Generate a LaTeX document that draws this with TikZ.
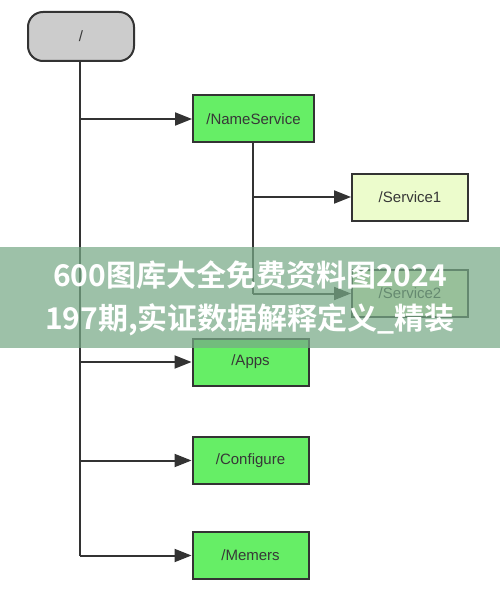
\documentclass[tikz,border=0pt]{standalone}
\usepackage{fontspec}
\setmainfont{Liberation Sans}
\newfontfamily\cjkbold[BoldFont={Noto Sans CJK SC Bold}]{Noto Sans CJK SC}
\usetikzlibrary{arrows.meta}
\definecolor{boxgreen}{RGB}{102,238,102}
\definecolor{palegreen}{RGB}{236,252,204}
\definecolor{rootgray}{RGB}{204,204,204}
\definecolor{edge}{RGB}{51,51,51}
\definecolor{txt}{RGB}{55,55,55}
\definecolor{bandcol}{RGB}{120,170,135}
\begin{document}
\begin{tikzpicture}[x=1pt,y=-1pt,
  box/.style={draw=edge,line width=2pt,fill=boxgreen,minimum width=116pt,minimum height=47pt,inner sep=0pt,text=txt,font=\fontsize{15}{17}\selectfont},
  widebox/.style={box,minimum width=121pt},
  palebox/.style={box,fill=palegreen},
  rootbox/.style={box,fill=rootgray,rounded corners=15pt,minimum width=106pt,minimum height=49pt},
  conn/.style={draw=edge,line width=2pt},
  arr/.style={conn,-{Triangle[length=17pt,width=13pt]}}]
\useasboundingbox (0,0) rectangle (500,596);
\fill[white] (0,0) rectangle (500,596);
\node[rootbox] (root) at (81,36.5) {/};
\node[widebox] (ns) at (253.5,119) {/NameService};
\node[palebox] (s1) at (410,197) {/Service1};
\node[palebox] (s2) at (410,293.5) {/Service2};
\node[box] (apps) at (250.5,362) {/Apps};
\node[box] (conf) at (250.5,460.5) {/Configure};
\node[box] (mem) at (250.5,555.5) {/Memers};
\coordinate (tb) at (80,555.5);
\draw[conn] (root.south -| tb) -- (tb);
\draw[arr] (ns.west -| tb) -- (ns.west);
\draw[arr] (apps.west -| tb) -- (apps.west);
\draw[arr] (conf.west -| tb) -- (conf.west);
\draw[arr] (tb) -- (mem.west);
\coordinate (nb) at (253,293.5);
\draw[conn] (ns.south -| nb) -- (nb);
\draw[arr] (s1.west -| nb) -- (s1.west);
\draw[arr] (nb) -- (s2.west);
% watermark band
\fill[bandcol,fill opacity=0.72] (0,247) rectangle (500,348);
\node[text=white,font=\cjkbold\bfseries\fontsize{30}{43}\selectfont,align=center] (wm) at (250,298.5) {600图库大全免费资料图2024\\197期,实证数据解释定义\_精装};
\end{tikzpicture}
\end{document}
